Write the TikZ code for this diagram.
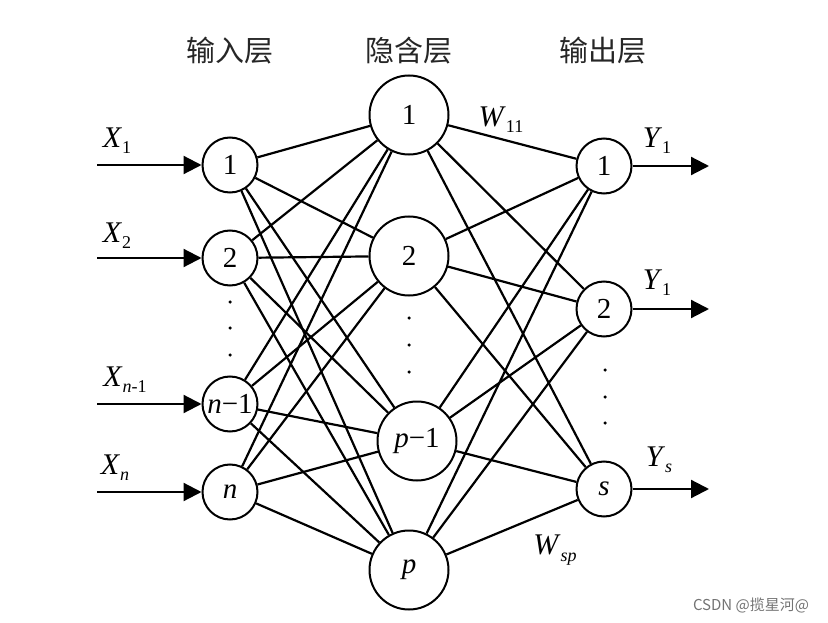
\documentclass[tikz,border=0pt]{standalone}
\usepackage{fontspec}
\setmainfont{Liberation Serif}
\newfontfamily\cjk{Noto Sans CJK SC}
\usetikzlibrary{arrows.meta}
\newcommand{\lbl}[2]{\textit{#1}\raisebox{-0.45ex}{\fontsize{18}{18}\selectfont #2}}
\begin{document}
\begin{tikzpicture}[x=1pt,y=-1pt,
  neuron/.style={circle,draw,line width=2pt,fill=white,inner sep=0pt,font=\fontsize{29}{29}\selectfont},
  smallneuron/.style={neuron,minimum size=55pt},
  bigneuron/.style={neuron,minimum size=79pt},
  conn/.style={line width=2.2pt},
  io/.style={line width=2.2pt,-{Triangle[length=18pt,width=18pt]}},
  head/.style={font=\cjk\fontsize{29}{29}\selectfont,text=black!85},
  lab/.style={font=\fontsize{30}{30}\selectfont},
  dotn/.style={circle,fill=black,inner sep=0pt,minimum size=3.5pt}]
\useasboundingbox (0,0) rectangle (828,623);
% headings
\node[head] (h1) at (230,51) {输入层};
\node[head] (h2) at (409,51) {隐含层};
\node[head] (h3) at (603,51) {输出层};
% input nodes
\node[smallneuron] (i1) at (230,165) {1};
\node[smallneuron] (i2) at (230,258) {2};
\node[smallneuron] (i3) at (230,404) {\textit{n}−1};
\node[smallneuron] (i4) at (230,492) {\textit{n}};
% hidden nodes
\node[bigneuron] (hh1) at (409,115) {1};
\node[bigneuron] (hh2) at (409,256) {2};
\node[bigneuron] (hh3) at (417,441) {\textit{p}−1};
\node[bigneuron] (hh4) at (409,570) {\textit{p}};
% output nodes
\node[smallneuron] (o1) at (604,166) {1};
\node[smallneuron] (o2) at (604,309) {2};
\node[smallneuron] (o3) at (604,489) {\textit{s}};
% connections
\foreach \a in {i1,i2,i3,i4}
  \foreach \b in {hh1,hh2,hh3,hh4}
    \draw[conn] (\a) -- (\b);
\foreach \a in {hh1,hh2,hh3,hh4}
  \foreach \b in {o1,o2,o3}
    \draw[conn] (\a) -- (\b);
% input arrows
\coordinate (s1) at (97,165);
\coordinate (s2) at (97,258);
\coordinate (s3) at (97,404);
\coordinate (s4) at (97,492);
\draw[io] (s1) -- (i1);
\draw[io] (s2) -- (i2);
\draw[io] (s3) -- (i3);
\draw[io] (s4) -- (i4);
% output arrows
\coordinate (e1) at (709,166);
\coordinate (e2) at (709,309);
\coordinate (e3) at (709,489);
\draw[io] (o1) -- (e1);
\draw[io] (o2) -- (e2);
\draw[io] (o3) -- (e3);
% labels
\node[lab] (x1) at (117,141) {\lbl{X}{1}};
\node[lab] (x2) at (117,236) {\lbl{X}{2}};
\node[lab] (x3) at (125,380) {\lbl{X}{\textit{n}-1}};
\node[lab] (x4) at (115,468) {\lbl{X}{\textit{n}}};
\node[lab] (y1) at (657,141) {\lbl{Y}{1}};
\node[lab] (y2) at (657,283) {\lbl{Y}{1}};
\node[lab] (y3) at (659,460) {\lbl{Y}{\textit{s}}};
\node[lab] (w1) at (501,120) {\lbl{W}{11}};
\node[lab] (w2) at (555,550) {\lbl{W}{\textit{sp}}};
% dots
\foreach \y [count=\k] in {302,328,355}
  \node[dotn] (di\k) at (230,\y) {};
\foreach \y [count=\k] in {318,345,372}
  \node[dotn] (dh\k) at (409,\y) {};
\foreach \y [count=\k] in {370,397,423}
  \node[dotn] (do\k) at (605,\y) {};
% watermark
\node[font=\cjk\fontsize{15}{15}\selectfont,text=black!55] (wm) at (751,605) {CSDN @揽星河@};
\end{tikzpicture}
\end{document}
